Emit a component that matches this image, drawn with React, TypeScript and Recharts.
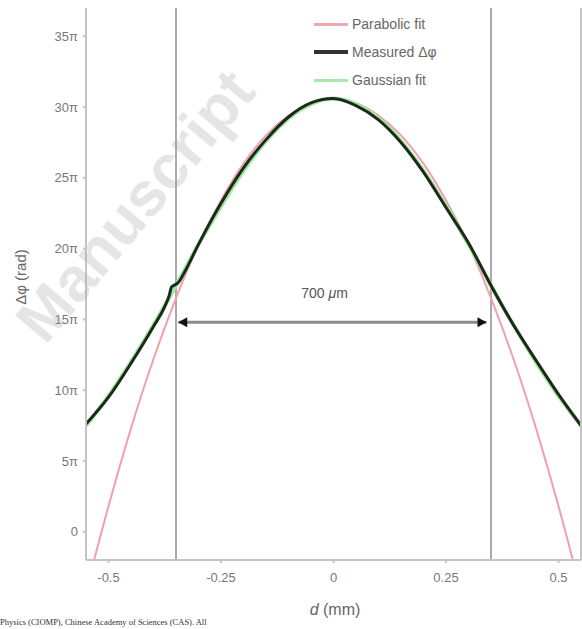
import React from "react";
import {
  LineChart,
  Line,
  XAxis,
  YAxis,
  ReferenceLine,
  ReferenceDot,
} from "recharts";

// d (mm) positions and phase values in units of pi
const measuredX = [
  -0.55, -0.5, -0.45, -0.4, -0.375, -0.365, -0.36, -0.355, -0.345, -0.33, -0.3,
  -0.25, -0.2, -0.15, -0.1, -0.05, 0, 0.05, 0.1, 0.15, 0.2, 0.25, 0.3, 0.35,
  0.4, 0.45, 0.5, 0.55,
];
const measuredY = [
  7.6, 9.5, 11.9, 14.5, 15.9, 16.7, 17.3, 17.4, 17.6, 18.4, 20.3, 23.2, 25.7,
  27.7, 29.3, 30.3, 30.6, 30.1, 29.1, 27.5, 25.4, 22.9, 20.4, 17.4, 14.6, 12.1,
  9.7, 7.5,
];

const fitX = [
  -0.55, -0.5, -0.45, -0.4, -0.35, -0.3, -0.25, -0.2, -0.15, -0.1, -0.05, 0,
  0.05, 0.1, 0.15, 0.2, 0.25, 0.3, 0.35, 0.4, 0.45, 0.5, 0.55,
];
const gaussianY = [
  7.5, 9.6, 12.0, 14.6, 17.4, 20.3, 23.0, 25.5, 27.6, 29.2, 30.2, 30.6, 30.2,
  29.2, 27.6, 25.5, 23.0, 20.3, 17.4, 14.6, 12.0, 9.6, 7.5,
];
const parabolicY = [
  -4.2, 1.8, 7.3, 12.2, 16.5, 20.3, 23.4, 26.0, 28.0, 29.4, 30.3, 30.6, 30.3,
  29.4, 28.0, 26.0, 23.4, 20.3, 16.5, 12.2, 7.3, 1.8, -4.2,
];

const yTicks = [0, 5, 10, 15, 20, 25, 30, 35];
const xTicks = [-0.5, -0.25, 0, 0.25, 0.5];
const edgeX = [-0.35, 0.35];
const arrowY = 14.8;

const measured = measuredX.map((x, i) => ({ x, y: measuredY[i] }));
const gaussian = fitX.map((x, i) => ({ x, y: gaussianY[i] }));
const parabolic = fitX.map((x, i) => ({ x, y: parabolicY[i] }));

const font = "'Liberation Sans', Arial, sans-serif";
const tickStyle = { fill: "#777", fontSize: 13, fontFamily: font };

const legendItems = [
  { name: "Parabolic fit", color: "#f2a7b2", width: 3 },
  { name: "Measured Δφ", color: "#333", width: 4 },
  { name: "Gaussian fit", color: "#a8e8a8", width: 3 },
];

function Arrow(props: any) {
  const { cx, cy, dir } = props;
  const back = cx - dir * 9;
  return (
    <polygon
      points={`${cx},${cy} ${back},${cy - 5} ${back},${cy + 5}`}
      fill="#111"
    />
  );
}

export default function App() {
  return (
    <div
      style={{
        position: "absolute",
        left: 0,
        top: 0,
        width: 582,
        height: 629,
        background: "#fff",
      }}
    >
      <LineChart
        width={582}
        height={629}
        margin={{ top: 8, right: 0, left: 26, bottom: 39 }}
      >
        <XAxis
          dataKey="x"
          type="number"
          domain={[-0.55, 0.55]}
          ticks={xTicks}
          allowDataOverflow
          tick={tickStyle}
          tickFormatter={(v) => String(v)}
          tickSize={3}
          tickMargin={10}
          stroke="#c4c4c4"
          strokeWidth={2}
          height={30}
        />
        <XAxis
          xAxisId="top"
          orientation="top"
          dataKey="x"
          type="number"
          domain={[-0.55, 0.55]}
          tick={false}
          tickLine={false}
          stroke="#c4c4c4"
          strokeWidth={2}
          height={0}
        />
        <YAxis
          type="number"
          domain={[-2, 37]}
          ticks={yTicks}
          allowDataOverflow
          tick={tickStyle}
          tickFormatter={(v) => (v === 0 ? "0" : `${v}π`)}
          tickSize={3}
          tickMargin={5}
          stroke="#c4c4c4"
          strokeWidth={2}
          width={60}
        />
        <YAxis
          yAxisId="right"
          orientation="right"
          domain={[-2, 37]}
          tick={false}
          tickLine={false}
          stroke="#c4c4c4"
          strokeWidth={2}
          width={1}
        />
        {edgeX.map((x) => (
          <ReferenceLine key={x} x={x} stroke="#aaa" strokeWidth={2} />
        ))}
        <ReferenceLine
          segment={[
            { x: -0.345, y: arrowY },
            { x: 0.34, y: arrowY },
          ]}
          stroke="#8a8a8a"
          strokeWidth={3}
        />
        <ReferenceDot
          x={-0.345}
          y={arrowY}
          r={0}
          shape={(p: any) => <Arrow {...p} dir={-1} />}
        />
        <ReferenceDot
          x={0.34}
          y={arrowY}
          r={0}
          shape={(p: any) => <Arrow {...p} dir={1} />}
        />
        <ReferenceDot
          x={-0.02}
          y={16.5}
          r={0}
          shape={(p: any) => (
            <text
              x={p.cx}
              y={p.cy}
              textAnchor="middle"
              fontFamily={font}
              fontSize={14}
              fill="#555"
            >
              700 <tspan fontStyle="italic">μ</tspan>m
            </text>
          )}
        />
        <Line
          data={parabolic}
          dataKey="y"
          type="monotone"
          stroke="#f2a0ac"
          strokeWidth={2}
          dot={false}
          isAnimationActive={false}
        />
        <Line
          data={gaussian}
          dataKey="y"
          type="monotone"
          stroke="#9fe89f"
          strokeWidth={4}
          dot={false}
          isAnimationActive={false}
        />
        <Line
          data={measured}
          dataKey="y"
          type="monotone"
          stroke="#1c2a1c"
          strokeWidth={3}
          dot={false}
          isAnimationActive={false}
        />
      </LineChart>
      <div
        style={{
          position: "absolute",
          left: 0,
          top: 0,
          width: 582,
          height: 629,
          pointerEvents: "none",
        }}
      >
        <div
          style={{
            position: "absolute",
            left: 314,
            top: 10,
            fontFamily: font,
            fontSize: 14,
            color: "#666",
          }}
        >
          {legendItems.map((it) => (
            <div
              key={it.name}
              style={{ display: "flex", alignItems: "center", height: 28 }}
            >
              <div
                style={{
                  width: 34,
                  height: it.width,
                  background: it.color,
                  marginRight: 4,
                }}
              />
              <span>{it.name}</span>
            </div>
          ))}
        </div>
        <div
          style={{
            position: "absolute",
            left: 12,
            top: 352,
            width: 150,
            transform: "rotate(-90deg)",
            transformOrigin: "0 0",
            textAlign: "center",
            fontFamily: font,
            fontSize: 15,
            color: "#666",
            whiteSpace: "nowrap",
          }}
        >
          Δφ (rad)
        </div>
        <div
          style={{
            position: "absolute",
            left: 285,
            top: 601,
            width: 100,
            textAlign: "center",
            fontFamily: font,
            fontSize: 16,
            color: "#666",
          }}
        >
          <i>d</i> (mm)
        </div>
        <div
          style={{
            position: "absolute",
            left: 0,
            top: 617,
            fontFamily: "'Liberation Serif', serif",
            fontSize: 8.5,
            color: "#333",
            whiteSpace: "nowrap",
          }}
        >
          Physics (CIOMP), Chinese Academy of Sciences (CAS). All
        </div>
        <div
          style={{
            position: "absolute",
            left: -55,
            top: 170,
            width: 380,
            textAlign: "center",
            transform: "rotate(-50deg)",
            fontFamily: font,
            fontWeight: "bold",
            fontSize: 62,
            color: "rgba(170,170,170,0.3)",
            whiteSpace: "nowrap",
          }}
        >
          Manuscript
        </div>
      </div>
    </div>
  );
}
